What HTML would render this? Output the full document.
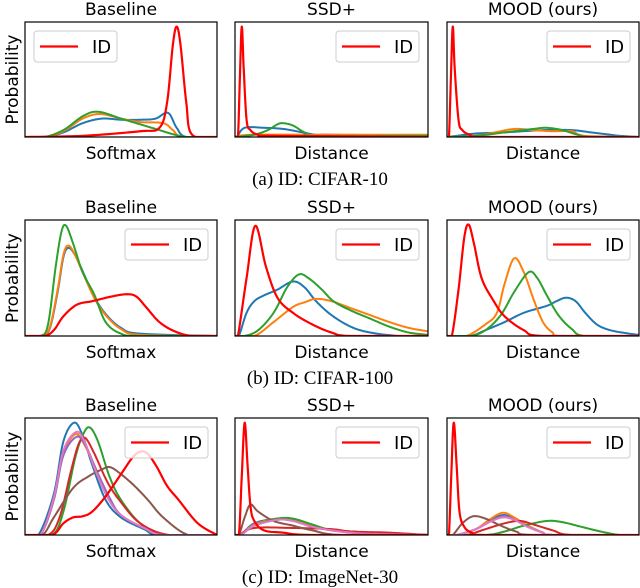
<!DOCTYPE html>
<html><head><meta charset="utf-8">
<style>
html,body{margin:0;padding:0;background:#fff;}
svg{display:block;}
text{font-family:"DejaVu Sans","Liberation Sans",sans-serif;}
.cap{font-family:"Liberation Serif",serif;font-size:19px;}
</style></head>
<body>
<svg id="fig" width="640" height="588" viewBox="0 0 640 588" xmlns="http://www.w3.org/2000/svg"></svg>
<script>
// ---- data (x in 0..1 score range, y = normalized density) ----
const rowCaptions = ["(a) ID: CIFAR-10", "(b) ID: CIFAR-100", "(c) ID: ImageNet-30"];
const colTitles = ["Baseline", "SSD+", "MOOD (ours)"];
const colXLabels = ["Softmax", "Distance", "Distance"];
const colors = {blue:"#1f77b4",orange:"#ff7f0e",green:"#2ca02c",dred:"#d62728",purple:"#9467bd",brown:"#8c564b",pink:"#e377c2",id:"#ff0000"};

// Row 1 (CIFAR-10)
const r1c1_blue_x=[0,0.1,0.2,0.3,0.4,0.5,0.6,0.68,0.745,0.79,0.84,1], r1c1_blue_y=[0,0,0.04,0.12,0.16,0.15,0.15,0.16,0.21,0.08,0,0];
const r1c1_orange_x=[0,0.1,0.2,0.3,0.39,0.5,0.6,0.72,0.77,0.82,1], r1c1_orange_y=[0,0,0.05,0.16,0.2,0.16,0.13,0.12,0.06,0,0];
const r1c1_green_x=[0,0.1,0.2,0.3,0.38,0.5,0.6,0.7,0.78,0.85,1], r1c1_green_y=[0,0,0.06,0.18,0.22,0.16,0.11,0.06,0.02,0,0];
const r1c1_id_x=[0,0.3,0.6,0.7,0.74,0.77,0.79,0.81,0.84,0.87,1], r1c1_id_y=[0,0.01,0.05,0.08,0.3,0.8,0.96,0.8,0.3,0.02,0];

const r1c2_blue_x=[0,0.01,0.05,0.15,0.25,0.35,0.42,0.5,1], r1c2_blue_y=[0,0,0.08,0.08,0.07,0.04,0.02,0.02,0.01];
const r1c2_orange_x=[0,0.02,0.1,0.4,0.6,1], r1c2_orange_y=[0,0.01,0.02,0.02,0.02,0.02];
const r1c2_green_x=[0,0.1,0.17,0.22,0.25,0.3,0.36,0.42,1], r1c2_green_y=[0,0.02,0.06,0.11,0.12,0.1,0.04,0.01,0.01];
const r1c2_id_x=[0,0.015,0.025,0.035,0.045,0.06,0.08,0.12,0.2,1], r1c2_id_y=[0,0,0.5,0.96,0.6,0.15,0.06,0.02,0.01,0];

const r1c3_blue_x=[0,0.05,0.15,0.3,0.5,0.65,0.75,0.85,0.9,1], r1c3_blue_y=[0,0.01,0.03,0.04,0.06,0.06,0.04,0.02,0.01,0];
const r1c3_orange_x=[0,0.15,0.25,0.35,0.45,0.55,0.65,0.72,1], r1c3_orange_y=[0,0.01,0.04,0.07,0.06,0.05,0.05,0.01,0];
const r1c3_green_x=[0,0.15,0.3,0.45,0.52,0.6,0.68,0.75,1], r1c3_green_y=[0,0.01,0.04,0.07,0.08,0.06,0.02,0,0];
const r1c3_id_x=[0,0.01,0.02,0.03,0.04,0.06,0.08,0.12,0.2,1], r1c3_id_y=[0,0,0.5,0.96,0.6,0.15,0.06,0.02,0,0];

// Row 2 (CIFAR-100)
const r2c1_blue_x=[0,0.09,0.13,0.17,0.2,0.226,0.26,0.3,0.36,0.42,0.5,0.6,1], r2c1_blue_y=[0,0,0.07,0.38,0.68,0.76,0.7,0.56,0.34,0.19,0.07,0.02,0];
const r2c1_orange_x=[0,0.09,0.13,0.17,0.2,0.226,0.26,0.3,0.36,0.42,0.5,0.6,1], r2c1_orange_y=[0,0,0.08,0.4,0.7,0.78,0.7,0.55,0.33,0.18,0.06,0.01,0];
const r2c1_green_x=[0,0.08,0.12,0.16,0.19,0.214,0.25,0.3,0.36,0.42,0.5,0.6,1], r2c1_green_y=[0,0,0.1,0.6,0.9,0.95,0.8,0.55,0.36,0.12,0.02,0,0];
const r2c1_id_x=[0,0.1,0.15,0.2,0.27,0.35,0.45,0.53,0.58,0.63,0.7,0.78,0.87,1], r2c1_id_y=[0,0,0.05,0.17,0.27,0.3,0.34,0.36,0.34,0.25,0.12,0.04,0,0];

const r2c2_blue_x=[0,0.02,0.06,0.1,0.15,0.22,0.3,0.36,0.42,0.5,0.6,0.7,0.85,1], r2c2_blue_y=[0,0,0.2,0.3,0.35,0.4,0.47,0.42,0.3,0.18,0.08,0.03,0,0];
const r2c2_orange_x=[0,0.1,0.2,0.3,0.36,0.42,0.5,0.6,0.7,0.8,0.9,1], r2c2_orange_y=[0,0,0.12,0.25,0.29,0.32,0.3,0.24,0.18,0.12,0.07,0.04];
const r2c2_green_x=[0,0.05,0.12,0.2,0.27,0.33,0.38,0.45,0.51,0.6,0.7,0.8,0.9,1], r2c2_green_y=[0,0,0.05,0.2,0.42,0.53,0.5,0.4,0.3,0.22,0.15,0.08,0.03,0.01];
const r2c2_id_x=[0,0.015,0.06,0.105,0.16,0.22,0.3,0.4,0.5,0.6,1], r2c2_id_y=[0,0,0.5,0.95,0.6,0.33,0.2,0.1,0.03,0,0];

const r2c3_blue_x=[0,0.12,0.2,0.3,0.4,0.52,0.57,0.62,0.67,0.72,0.78,0.85,0.95,1], r2c3_blue_y=[0,0,0.05,0.12,0.2,0.26,0.3,0.33,0.3,0.2,0.1,0.05,0.02,0.01];
const r2c3_orange_x=[0,0.1,0.2,0.26,0.3,0.35,0.4,0.45,0.5,0.55,0.6,1], r2c3_orange_y=[0,0,0.1,0.2,0.45,0.67,0.55,0.32,0.12,0.03,0,0];
const r2c3_green_x=[0,0.12,0.2,0.28,0.35,0.425,0.47,0.52,0.58,0.65,0.72,1], r2c3_green_y=[0,0,0.05,0.18,0.38,0.55,0.5,0.35,0.18,0.06,0,0];
const r2c3_id_x=[0,0.025,0.06,0.09,0.113,0.14,0.18,0.24,0.3,0.4,0.5,1], r2c3_id_y=[0,0,0.4,0.85,0.96,0.8,0.5,0.31,0.17,0.05,0,0];

// Row 3 (ImageNet-30)
const r3c1_blue_x=[0,0.07,0.15,0.2,0.256,0.3,0.35,0.42,0.5,0.62,0.7,1], r3c1_blue_y=[0,0,0.35,0.8,0.96,0.85,0.6,0.3,0.15,0.05,0,0];
const r3c1_orange_x=[0,0.08,0.15,0.2,0.26,0.3,0.36,0.43,0.5,0.62,0.72,1], r3c1_orange_y=[0,0,0.3,0.7,0.86,0.8,0.6,0.33,0.17,0.06,0,0];
const r3c1_green_x=[0,0.14,0.2,0.26,0.3,0.336,0.38,0.44,0.5,0.6,0.72,1], r3c1_green_y=[0,0,0.2,0.65,0.85,0.92,0.8,0.5,0.3,0.1,0,0];
const r3c1_dred_x=[0,0.12,0.18,0.24,0.28,0.313,0.36,0.43,0.5,0.6,0.75,1], r3c1_dred_y=[0,0,0.15,0.55,0.78,0.83,0.7,0.45,0.28,0.1,0,0];
const r3c1_purple_x=[0,0.08,0.15,0.2,0.27,0.32,0.37,0.44,0.5,0.62,0.72,1], r3c1_purple_y=[0,0,0.3,0.68,0.84,0.75,0.56,0.32,0.17,0.06,0,0];
const r3c1_brown_x=[0,0.09,0.15,0.25,0.33,0.4,0.443,0.5,0.57,0.64,0.72,0.85,1], r3c1_brown_y=[0,0,0.15,0.4,0.5,0.56,0.58,0.52,0.42,0.3,0.15,0,0];
const r3c1_pink_x=[0,0.08,0.15,0.2,0.266,0.31,0.36,0.43,0.5,0.62,0.72,1], r3c1_pink_y=[0,0,0.32,0.72,0.88,0.8,0.58,0.32,0.17,0.06,0,0];
const r3c1_id_x=[0,0.14,0.2,0.25,0.3,0.35,0.42,0.5,0.57,0.626,0.68,0.74,0.8,0.9,1], r3c1_id_y=[0,0,0.1,0.15,0.16,0.2,0.33,0.52,0.68,0.71,0.6,0.42,0.3,0.1,0];

const r3c2_blue_x=[0,0.03,0.1,0.22,0.3,0.4,0.5,0.6,0.7,1], r3c2_blue_y=[0,0,0.1,0.14,0.13,0.08,0.04,0.03,0.02,0];
const r3c2_orange_x=[0,0.03,0.1,0.22,0.3,0.4,0.5,0.6,0.7,1], r3c2_orange_y=[0,0,0.09,0.14,0.13,0.08,0.04,0.03,0.02,0];
const r3c2_green_x=[0,0.03,0.1,0.22,0.3,0.4,0.5,0.6,0.7,1], r3c2_green_y=[0,0,0.08,0.14,0.14,0.09,0.04,0.03,0.02,0];
const r3c2_dred_x=[0,0.02,0.1,0.3,0.5,0.6,0.8,1], r3c2_dred_y=[0,0,0.06,0.06,0.05,0.03,0.02,0];
const r3c2_purple_x=[0,0.03,0.1,0.22,0.3,0.4,0.5,0.6,0.7,1], r3c2_purple_y=[0,0,0.08,0.13,0.12,0.07,0.04,0.02,0.01,0];
const r3c2_brown_x=[0,0.02,0.05,0.08,0.12,0.2,0.3,0.4,0.55,1], r3c2_brown_y=[0,0,0.15,0.26,0.2,0.12,0.08,0.04,0,0];
const r3c2_pink_x=[0,0.03,0.1,0.22,0.3,0.4,0.5,0.6,0.7,1], r3c2_pink_y=[0,0,0.08,0.13,0.12,0.07,0.04,0.02,0.01,0];
const r3c2_id_x=[0,0.02,0.035,0.05,0.065,0.08,0.1,0.15,0.25,0.4,1], r3c2_id_y=[0,0,0.5,0.96,0.6,0.25,0.12,0.04,0.02,0,0];

const r3c3_blue_x=[0,0.05,0.15,0.22,0.29,0.35,0.42,0.5,0.55,1], r3c3_blue_y=[0,0,0.05,0.12,0.17,0.14,0.08,0.02,0,0];
const r3c3_orange_x=[0,0.05,0.15,0.22,0.29,0.35,0.42,0.5,0.55,1], r3c3_orange_y=[0,0,0.05,0.13,0.19,0.15,0.08,0.02,0,0];
const r3c3_green_x=[0,0.2,0.3,0.4,0.52,0.6,0.7,0.8,0.9,1], r3c3_green_y=[0,0,0.03,0.08,0.12,0.11,0.07,0.03,0,0];
const r3c3_dred_x=[0,0.1,0.2,0.3,0.38,0.45,0.55,0.65,1], r3c3_dred_y=[0,0,0.05,0.1,0.12,0.09,0.04,0,0];
const r3c3_purple_x=[0,0.05,0.15,0.22,0.29,0.35,0.42,0.5,0.55,1], r3c3_purple_y=[0,0,0.05,0.11,0.16,0.13,0.07,0.02,0,0];
const r3c3_brown_x=[0,0.03,0.08,0.136,0.2,0.28,0.36,0.45,1], r3c3_brown_y=[0,0,0.1,0.16,0.14,0.08,0.03,0,0];
const r3c3_pink_x=[0,0.05,0.15,0.22,0.29,0.35,0.42,0.5,0.55,1], r3c3_pink_y=[0,0,0.05,0.11,0.15,0.13,0.07,0.02,0,0];
const r3c3_id_x=[0,0.01,0.022,0.035,0.05,0.065,0.09,0.13,0.2,1], r3c3_id_y=[0,0,0.5,0.96,0.6,0.2,0.07,0.02,0,0];

const panels = [
 [ [["blue",r1c1_blue_x,r1c1_blue_y],["orange",r1c1_orange_x,r1c1_orange_y],["green",r1c1_green_x,r1c1_green_y],["id",r1c1_id_x,r1c1_id_y]],
   [["blue",r1c2_blue_x,r1c2_blue_y],["orange",r1c2_orange_x,r1c2_orange_y],["green",r1c2_green_x,r1c2_green_y],["id",r1c2_id_x,r1c2_id_y]],
   [["blue",r1c3_blue_x,r1c3_blue_y],["orange",r1c3_orange_x,r1c3_orange_y],["green",r1c3_green_x,r1c3_green_y],["id",r1c3_id_x,r1c3_id_y]] ],
 [ [["blue",r2c1_blue_x,r2c1_blue_y],["orange",r2c1_orange_x,r2c1_orange_y],["green",r2c1_green_x,r2c1_green_y],["id",r2c1_id_x,r2c1_id_y]],
   [["blue",r2c2_blue_x,r2c2_blue_y],["orange",r2c2_orange_x,r2c2_orange_y],["green",r2c2_green_x,r2c2_green_y],["id",r2c2_id_x,r2c2_id_y]],
   [["blue",r2c3_blue_x,r2c3_blue_y],["orange",r2c3_orange_x,r2c3_orange_y],["green",r2c3_green_x,r2c3_green_y],["id",r2c3_id_x,r2c3_id_y]] ],
 [ [["blue",r3c1_blue_x,r3c1_blue_y],["orange",r3c1_orange_x,r3c1_orange_y],["green",r3c1_green_x,r3c1_green_y],["dred",r3c1_dred_x,r3c1_dred_y],["purple",r3c1_purple_x,r3c1_purple_y],["brown",r3c1_brown_x,r3c1_brown_y],["pink",r3c1_pink_x,r3c1_pink_y],["id",r3c1_id_x,r3c1_id_y]],
   [["blue",r3c2_blue_x,r3c2_blue_y],["orange",r3c2_orange_x,r3c2_orange_y],["green",r3c2_green_x,r3c2_green_y],["dred",r3c2_dred_x,r3c2_dred_y],["purple",r3c2_purple_x,r3c2_purple_y],["brown",r3c2_brown_x,r3c2_brown_y],["pink",r3c2_pink_x,r3c2_pink_y],["id",r3c2_id_x,r3c2_id_y]],
   [["blue",r3c3_blue_x,r3c3_blue_y],["orange",r3c3_orange_x,r3c3_orange_y],["green",r3c3_green_x,r3c3_green_y],["dred",r3c3_dred_x,r3c3_dred_y],["purple",r3c3_purple_x,r3c3_purple_y],["brown",r3c3_brown_x,r3c3_brown_y],["pink",r3c3_pink_x,r3c3_pink_y],["id",r3c3_id_x,r3c3_id_y]] ]
];

// ---- layout ----
const NS="http://www.w3.org/2000/svg";
const svg=document.getElementById('fig');
const colX=[[25,217],[235,428],[447,639]];
const rowY=[[22,137],[220,336],[418,535]];
function mk(tag,attrs,parent){const e=document.createElementNS(NS,tag);for(const k in attrs)e.setAttribute(k,attrs[k]);(parent||svg).appendChild(e);return e;}

function pathFor(xs,ys,sx,sy){
  const pts=[];
  for(let i=0;i<xs.length-1;i++){
    const x0=xs[Math.max(i-1,0)],y0=ys[Math.max(i-1,0)];
    const x1=xs[i],y1=ys[i],x2=xs[i+1],y2=ys[i+1];
    const x3=xs[Math.min(i+2,xs.length-1)],y3=ys[Math.min(i+2,xs.length-1)];
    const N=12;
    for(let k=0;k<N;k++){
      const t=k/N,t2=t*t,t3=t2*t;
      const cx=0.5*((2*x1)+(-x0+x2)*t+(2*x0-5*x1+4*x2-x3)*t2+(-x0+3*x1-3*x2+x3)*t3);
      let cy=0.5*((2*y1)+(-y0+y2)*t+(2*y0-5*y1+4*y2-y3)*t2+(-y0+3*y1-3*y2+y3)*t3);
      if(cy<0)cy=0;
      pts.push([sx(Math.min(Math.max(cx,x1),x2)),sy(cy)]);
    }
  }
  pts.push([sx(xs[xs.length-1]),sy(ys[ys.length-1])]);
  return 'M'+pts.map(p=>p[0].toFixed(2)+','+p[1].toFixed(2)).join('L');
}

for(let r=0;r<3;r++){
  const [y0,y1]=rowY[r];
  for(let c=0;c<3;c++){
    const [x0,x1]=colX[c];
    const g=mk('g',{});
    
    
    const sx=v=>x0+v*(x1-x0);
    const sy=v=>y1-v*(y1-y0);
    const clipId='clip'+r+c;
    const cp=mk('clipPath',{id:clipId},g);
    mk('rect',{x:x0,y:y0,width:x1-x0,height:y1-y0},cp);
    const t=mk('text',{x:(x0+x1)/2,y:y0-7,'text-anchor':'middle','font-size':'17',fill:'#000'},g);
    t.textContent=colTitles[c];
    
    
    const xl=mk('text',{x:(x0+x1)/2,y:y1+22,'text-anchor':'middle','font-size':'17',fill:'#000'},g);
    xl.textContent=colXLabels[c];
    
    
    if(c===0){
      const yl=mk('text',{x:0,y:0,'text-anchor':'middle','font-size':'17',fill:'#000',transform:'translate(18,'+((y0+y1)/2)+') rotate(-90)'},g);
      yl.textContent='Probability';
      
      
    }
    const lines=mk('g',{'clip-path':'url(#'+clipId+')'},g);
    for(const s of panels[r][c]){
      const p=mk('path',{d:pathFor(s[1],s[2],sx,sy),fill:'none',stroke:colors[s[0]],'stroke-width':s[0]==='id'?'2.2':'2','stroke-linejoin':'round'},lines);
      
      
    }
    const fr=mk('rect',{x:x0,y:y0,width:x1-x0,height:y1-y0,fill:'none',stroke:'#000','stroke-width':'1.2'},g);
    
    
    const left = (r===0&&c===0);
    const lw=83, lh=31;
    const lx= left? x0+9 : x1-9-lw;
    const ly= y0+9;
    const lg=mk('g',{},g);
    
    
    mk('rect',{x:lx,y:ly,width:lw,height:lh,rx:3,fill:'#fff','fill-opacity':'0.8',stroke:'#ccc','stroke-width':'1'},lg);
    mk('line',{x1:lx+6,y1:ly+lh/2,x2:lx+44,y2:ly+lh/2,stroke:colors.id,'stroke-width':'2.2'},lg);
    const lt=mk('text',{x:lx+58,y:ly+lh/2+6.5,'font-size':'18',fill:'#000'},lg);
    lt.textContent='ID';
    
    
  }
  const cap=mk('text',{x:320,y:rowY[r][1]+48,'text-anchor':'middle',class:'cap',fill:'#000'});
  cap.textContent=rowCaptions[r];
  
  
}
</script>
</body></html>
